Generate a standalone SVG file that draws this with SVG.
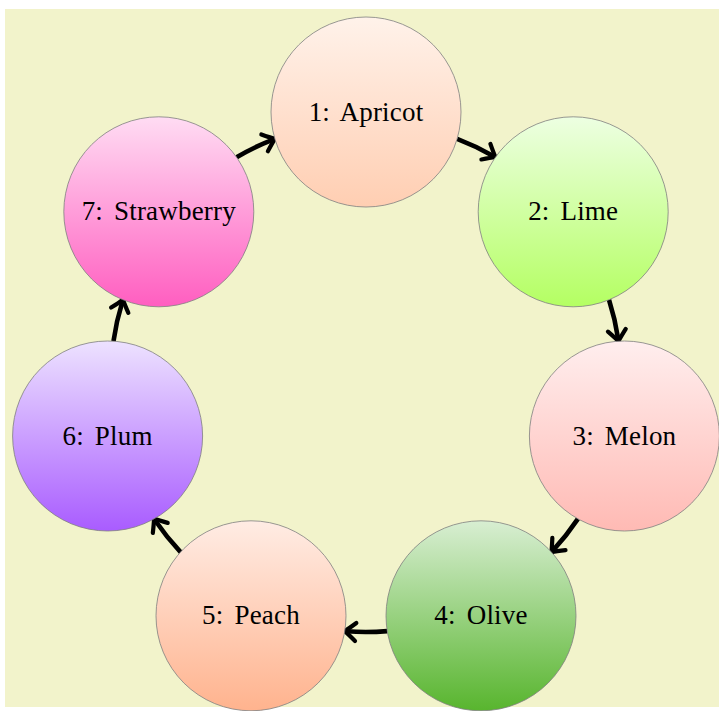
<svg xmlns="http://www.w3.org/2000/svg" width="719" height="711" viewBox="0 0 719 711">
<style>
.node circle{stroke:#7f7f7f;stroke-width:0.8}
.node text{font-family:"Liberation Serif","Times New Roman",serif;font-size:27px;fill:#000;text-anchor:middle;word-spacing:4px;letter-spacing:0.2px}
.conn path{fill:none;stroke:#000;stroke-width:4.6;stroke-linecap:butt}
</style>
<defs>
<linearGradient id="gApricot" x1="0" y1="0" x2="0" y2="1"><stop offset="0" stop-color="#fff2ea"/><stop offset="1" stop-color="#ffceb2"/></linearGradient>
<linearGradient id="gLime" x1="0" y1="0" x2="0" y2="1"><stop offset="0" stop-color="#edffe2"/><stop offset="1" stop-color="#b4ff62"/></linearGradient>
<linearGradient id="gMelon" x1="0" y1="0" x2="0" y2="1"><stop offset="0" stop-color="#ffeeee"/><stop offset="1" stop-color="#ffbab4"/></linearGradient>
<linearGradient id="gOlive" x1="0" y1="0" x2="0" y2="1"><stop offset="0" stop-color="#d8eed2"/><stop offset="1" stop-color="#58b52e"/></linearGradient>
<linearGradient id="gPeach" x1="0" y1="0" x2="0" y2="1"><stop offset="0" stop-color="#ffece4"/><stop offset="1" stop-color="#ffb38e"/></linearGradient>
<linearGradient id="gPlum" x1="0" y1="0" x2="0" y2="1"><stop offset="0" stop-color="#ede2ff"/><stop offset="1" stop-color="#a95cff"/></linearGradient>
<linearGradient id="gStraw" x1="0" y1="0" x2="0" y2="1"><stop offset="0" stop-color="#ffdcf3"/><stop offset="1" stop-color="#ff5ec0"/></linearGradient>
<marker id="arr" markerUnits="userSpaceOnUse" orient="auto" refX="-2" refY="0" markerWidth="30" markerHeight="30" overflow="visible">
<path d="M -11,-9 Q -4,-3 0,0 Q -4,3 -11,9" fill="none" stroke="#000" stroke-width="4.2" stroke-linecap="round" stroke-linejoin="round"/>
</marker>
</defs>
<rect x="5" y="9" width="714" height="698" fill="#f2f3cb"/>
<g class="conn" id="connectors" transform="translate(0,1)">
<path d="M 457.1,137.8 A 255 255 0 0 1 493.7,155.2" marker-end="url(#arr)"/>
<path d="M 609.0,298.8 A 255 255 0 0 1 618.2,338.2" marker-end="url(#arr)"/>
<path d="M 577.9,517.9 A 255 255 0 0 1 552.8,549.6" marker-end="url(#arr)"/>
<path d="M 387.2,630.1 A 255 255 0 0 1 346.7,630.3" marker-end="url(#arr)"/>
<path d="M 180.6,551.1 A 255 255 0 0 1 155.2,519.5" marker-end="url(#arr)"/>
<path d="M 113.5,340.1 A 255 255 0 0 1 122.4,300.6" marker-end="url(#arr)"/>
<path d="M 236.6,156.2 A 255 255 0 0 1 273.0,138.6" marker-end="url(#arr)"/>
</g>
<g class="node" id="n1"><circle cx="366" cy="112" r="95" fill="url(#gApricot)"/><text x="366" y="120.5">1: Apricot</text></g>
<g class="node" id="n2"><circle cx="573.2" cy="211.8" r="95" fill="url(#gLime)"/><text x="573.2" y="220.3">2: Lime</text></g>
<g class="node" id="n3"><circle cx="624.4" cy="436" r="95" fill="url(#gMelon)"/><text x="624.4" y="444.5">3: Melon</text></g>
<g class="node" id="n4"><circle cx="481" cy="615.8" r="95" fill="url(#gOlive)"/><text x="481" y="624.3">4: Olive</text></g>
<g class="node" id="n5"><circle cx="251" cy="615.8" r="95" fill="url(#gPeach)"/><text x="251" y="624.3">5: Peach</text></g>
<g class="node" id="n6"><circle cx="107.6" cy="436" r="95" fill="url(#gPlum)"/><text x="107.6" y="444.5">6: Plum</text></g>
<g class="node" id="n7"><circle cx="158.8" cy="211.8" r="95" fill="url(#gStraw)"/><text x="158.8" y="220.3">7: Strawberry</text></g>
</svg>
